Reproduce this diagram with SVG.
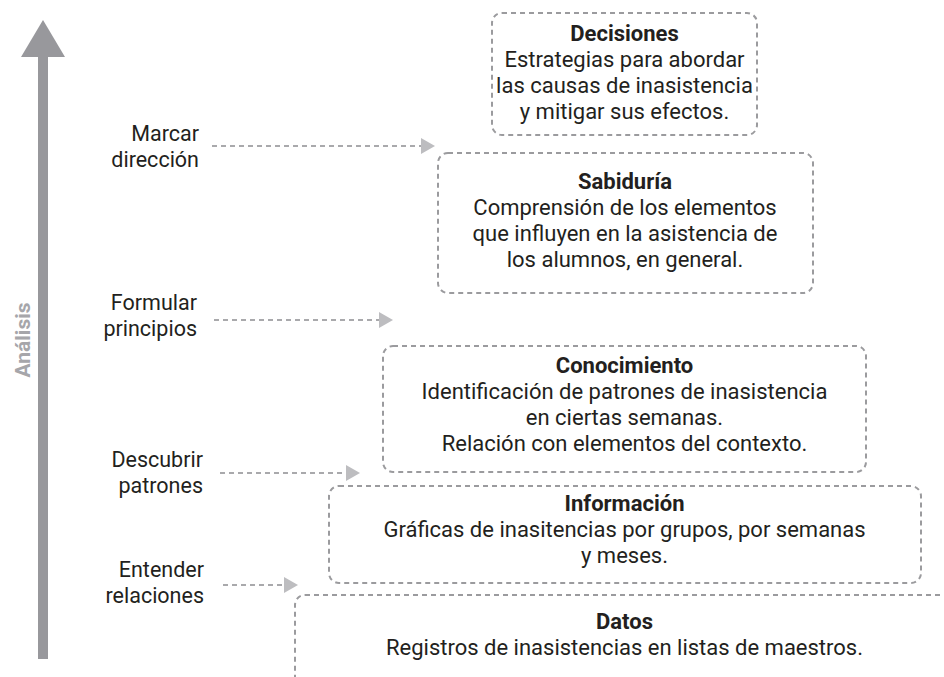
<svg xmlns="http://www.w3.org/2000/svg" width="944" height="677" viewBox="0 0 944 677">
<style>
.box{fill:none;stroke:#9b9b9e;stroke-width:2;stroke-dasharray:5 4}
.t{font-family:Roboto,"Liberation Sans",sans-serif;font-size:22px;fill:#231f20;text-anchor:middle}
.b{font-weight:bold}
.lbl{font-family:Roboto,"Liberation Sans",sans-serif;font-size:21.5px;fill:#231f20;text-anchor:end}
.conn{fill:none;stroke:#a9a9ac;stroke-width:2;stroke-dasharray:5 4}
</style>
<defs>
<marker id="ah" markerUnits="userSpaceOnUse" markerWidth="14" markerHeight="16" refX="0" refY="8" orient="auto" viewBox="0 0 14 16">
<polygon points="0,0 14,8 0,16" fill="#bdbdc0"/>
</marker>
</defs>
<g id="axis">
<rect x="38" y="56" width="10" height="603" fill="#98989c"/>
<polygon points="43,20 65,57 21,57" fill="#98989c"/>
<text x="30" y="340" transform="rotate(-90 30 340)" font-family="Roboto,'Liberation Sans',sans-serif" font-size="21" font-weight="bold" fill="#a6a6aa" text-anchor="middle">Análisis</text>
</g>
<g id="connectors">
<line class="conn" x1="212" y1="146" x2="421" y2="146" marker-end="url(#ah)"/>
<line class="conn" x1="214" y1="320" x2="379" y2="320" marker-end="url(#ah)"/>
<line class="conn" x1="220" y1="473" x2="346" y2="473" marker-end="url(#ah)"/>
<line class="conn" x1="223" y1="585" x2="284" y2="585" marker-end="url(#ah)"/>
</g>
<g id="label-marcar">
<text class="lbl" x="199" y="141">Marcar</text>
<text class="lbl" x="199" y="167">dirección</text>
</g>
<g id="label-formular">
<text class="lbl" x="197" y="310">Formular</text>
<text class="lbl" x="197" y="336">principios</text>
</g>
<g id="label-descubrir">
<text class="lbl" x="203" y="467">Descubrir</text>
<text class="lbl" x="203" y="493">patrones</text>
</g>
<g id="label-entender">
<text class="lbl" x="204" y="577">Entender</text>
<text class="lbl" x="204" y="603">relaciones</text>
</g>
<g id="decisiones">
<rect class="box" x="492" y="13" width="265" height="122" rx="10"/>
<text class="t b" x="624.5" y="41">Decisiones</text>
<text class="t" x="624.5" y="67">Estrategias para abordar</text>
<text class="t" x="624.5" y="93">las causas de inasistencia</text>
<text class="t" x="624.5" y="119">y mitigar sus efectos.</text>
</g>
<g id="sabiduria">
<rect class="box" x="438" y="153" width="375" height="140" rx="10"/>
<text class="t b" x="625" y="189">Sabiduría</text>
<text class="t" x="625" y="215">Comprensión de los elementos</text>
<text class="t" x="625" y="241">que influyen en la asistencia de</text>
<text class="t" x="625" y="267">los alumnos, en general.</text>
</g>
<g id="conocimiento">
<rect class="box" x="383" y="346" width="483" height="126" rx="10"/>
<text class="t b" x="624.5" y="373">Conocimiento</text>
<text class="t" x="624.5" y="399">Identificación de patrones de inasistencia</text>
<text class="t" x="624.5" y="425">en ciertas semanas.</text>
<text class="t" x="624.5" y="451">Relación con elementos del contexto.</text>
</g>
<g id="informacion">
<rect class="box" x="329" y="486" width="592" height="97" rx="10"/>
<text class="t b" x="624.5" y="511">Información</text>
<text class="t" x="624.5" y="537">Gráficas de inasitencias por grupos, por semanas</text>
<text class="t" x="624.5" y="563">y meses.</text>
</g>
<g id="datos">
<rect class="box" x="295" y="595" width="700" height="200" rx="10"/>
<text class="t b" x="624.5" y="629">Datos</text>
<text class="t" x="624.5" y="655">Registros de inasistencias en listas de maestros.</text>
</g>
</svg>
